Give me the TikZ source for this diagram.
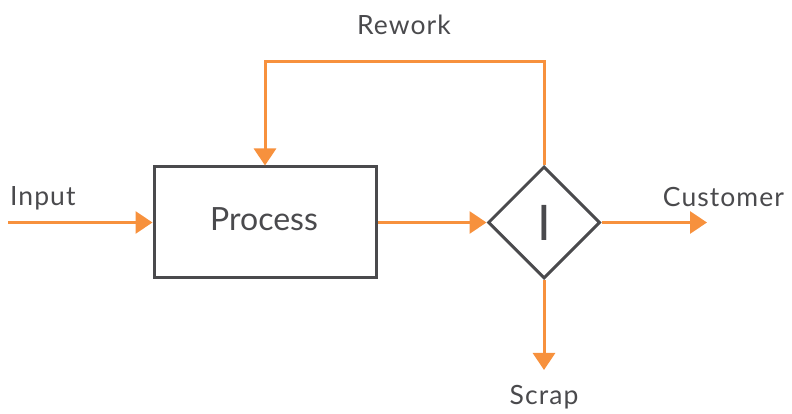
\documentclass[tikz,border=0pt]{standalone}
\usepackage{fontspec}
\setmainfont{Lato}
\usetikzlibrary{arrows.meta,shapes.geometric}
\definecolor{flow}{HTML}{F7913D}
\definecolor{ink}{HTML}{4A4A4D}
\tikzset{
  flowline/.style={draw=flow,line width=3pt},
  flowarrow/.style={flowline,-{Triangle[length=17pt,width=22pt]}},
  label/.style={text=ink,inner sep=0pt,
    font=\fontsize{26.5}{30}\selectfont\addfontfeature{LetterSpace=4}},
}
\begin{document}
\begin{tikzpicture}[x=1pt,y=1pt]
  \useasboundingbox (0,0) rectangle (792,414);
  % process box
  \node[draw=ink,line width=3pt,minimum width=222pt,minimum height=111pt] (proc) at (265,191.5) {};
  \node[text=ink,font=\fontsize{32}{36}\selectfont,inner sep=0pt,anchor=base] (ptext) at (264,183) {Process};
  % inspection diamond
  \node[draw=ink,line width=3pt,diamond,minimum width=112pt,minimum height=112pt,
        inner sep=0pt] (insp) at (544,191.5) {};
  \node[text=ink,font=\fontsize{49}{54}\selectfont,inner sep=0pt] (bar) at (544,191.5) {I};
  % free ends
  \coordinate (in) at (8,191.5);
  \coordinate (cust) at (707,191.5);
  \coordinate (scrap) at (544,44);
  \coordinate (rwR) at (544,352);
  \coordinate (rwL) at (265,352);
  % connectors
  \draw[flowarrow] (in) -- (proc.west);
  \draw[flowarrow] (proc.east) -- (insp.west);
  \draw[flowarrow] (insp.east) -- (cust);
  \draw[flowarrow] (insp.south) -- (scrap);
  \draw[flowarrow,line join=miter] (insp.north) -- (rwR) -- (rwL) -- (proc.north);
  % labels
  \node[label,anchor=base west] (lin) at (10,208) {Input};
  \node[label,anchor=base] (lcust) at (723.5,207) {Customer};
  \node[label,anchor=base] (lscrap) at (544,9) {Scrap};
  \node[label,anchor=base] (lrw) at (404,379) {Rework};
\end{tikzpicture}
\end{document}
